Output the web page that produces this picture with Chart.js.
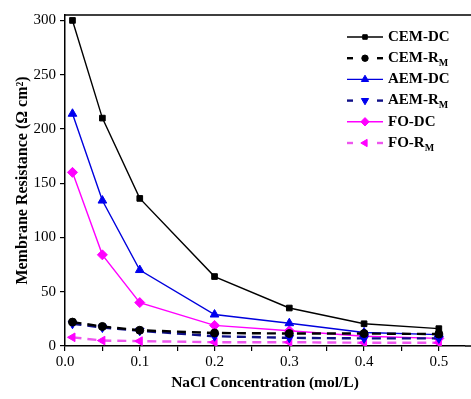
<!DOCTYPE html>
<html>
<head>
<meta charset="utf-8">
<script src="https://cdn.jsdelivr.net/npm/chart.js@4/dist/chart.umd.min.js"></script>
<style>
  html, body { margin: 0; padding: 0; background: #fff; }
  #wrap { width: 471px; height: 399px; }
</style>
</head>
<body>
<div id="wrap"><canvas id="myChart" width="471" height="399"></canvas></div>
<script>
// data
let conc = [0.01, 0.05, 0.1, 0.2, 0.3, 0.4, 0.5];
let cemDC = [300, 210, 136, 64, 35, 20.5, 16];
let cemRM = [22, 18, 14.5, 12, 11.5, 11.5, 11];
let aemDC = [214, 134, 70, 29, 21, 12.5, 10.5];
let aemRM = [20.5, 17, 14, 9, 7.5, 7, 7];
let foDC = [160, 84, 40, 19, 14, 9, 7];
let foRM = [8, 5, 4.5, 3.5, 3.5, 3, 3];
let xTicks = [0, 0.05, 0.1, 0.15, 0.2, 0.25, 0.3, 0.35, 0.4, 0.45, 0.5];
let yTicks = [0, 50, 100, 150, 200, 250, 300];

const serif = "'Liberation Serif', 'Times New Roman', serif";

function pts(vals) {
  return vals.map((v, i) => ({ x: conc[i], y: v }));
}

function series(name, sub, vals, color, lineColor, style, rot, dashed, radius) {
  return {
    label: name,
    sub: sub,
    data: pts(vals),
    borderColor: lineColor,
    backgroundColor: color,
    pointBackgroundColor: color,
    pointBorderColor: color,
    pointStyle: style,
    pointRotation: rot,
    pointRadius: radius,
    pointBorderWidth: 1,
    borderWidth: dashed ? 2.4 : 1.4,
    borderDash: dashed ? [9, 6] : [],
    tension: 0,
    fill: false,
  };
}

const datasets = [
  series("CEM-DC", "", cemDC, "#000000", "#000000", "rect", 0, false, 4),
  series("CEM-R", "M", cemRM, "#000000", "#000000", "circle", 0, true, 4),
  series("AEM-DC", "", aemDC, "#0000ee", "#0000dd", "triangle", 0, false, 5),
  series("AEM-R", "M", aemRM, "#0000ee", "#101088", "triangle", 180, true, 5),
  series("FO-DC", "", foDC, "#ff00ff", "#ff00ff", "rectRot", 0, false, 5),
  series("FO-R", "M", foRM, "#ff00ff", "#ee55ee", "triangle", 270, true, 5),
];

// legend drawn by hand so the M subscript works
const customLegend = {
  id: "customLegend",
  afterDraw(chart) {
    const c = chart.ctx;
    const x0 = 347, x1 = 383, tx = 388;
    let y = 37;
    chart.data.datasets.forEach((ds) => {
      c.save();
      c.strokeStyle = ds.borderColor;
      c.lineWidth = ds.borderWidth;
      if (ds.borderDash.length) {
        c.beginPath(); c.moveTo(x0, y); c.lineTo(x0 + 6, y); c.stroke();
        c.beginPath(); c.moveTo(x1 - 6, y); c.lineTo(x1, y); c.stroke();
      } else {
        c.beginPath(); c.moveTo(x0, y); c.lineTo(x1, y); c.stroke();
      }
      c.fillStyle = ds.pointBackgroundColor;
      c.strokeStyle = ds.pointBorderColor;
      c.lineWidth = 1;
      Chart.helpers.drawPoint(c, {
        pointStyle: ds.pointStyle,
        rotation: ds.pointRotation,
        radius: ds.pointRadius - 0.8,
        borderWidth: 1,
      }, (x0 + x1) / 2, y);
      c.fillStyle = "#000";
      c.textBaseline = "middle";
      c.font = "bold 15px " + serif;
      c.fillText(ds.label, tx, y);
      if (ds.sub) {
        const w = c.measureText(ds.label).width;
        c.font = "bold 10px " + serif;
        c.fillText(ds.sub, tx + w, y + 5);
      }
      c.restore();
      y += 21.2;
    });
  },
};

// top frame line, and the x axis line running on to the edge
const frame = {
  id: "frame",
  afterDraw(chart) {
    const a = chart.chartArea;
    const c = chart.ctx;
    c.save();
    c.strokeStyle = "#000";
    c.lineWidth = 1.5;
    c.beginPath();
    c.moveTo(a.left, a.top);
    c.lineTo(chart.width, a.top);
    c.moveTo(a.right, a.bottom);
    c.lineTo(chart.width, a.bottom);
    c.stroke();
    c.restore();
  },
};

const ctx = document.getElementById("myChart");
new Chart(ctx, {
  type: "line",
  data: { datasets: datasets },
  options: {
    responsive: false,
    animation: false,
    layout: { padding: { top: 15, right: 0, left: 0, bottom: 0 } },
    plugins: {
      legend: { display: false },
      tooltip: { enabled: false },
    },
    scales: {
      x: {
        type: "linear",
        min: 0,
        max: 0.535,
        afterBuildTicks: (s) => { s.ticks = xTicks.map((v) => ({ value: v })); },
        afterFit: (s) => { s.height = 53; },
        ticks: {
          color: "#000",
          font: { family: serif, size: 15 },
          padding: 2,
          maxRotation: 0,
          autoSkip: false,
          callback: (v) => (Math.round(v * 100) % 10 === 0 ? v.toFixed(1) : ""),
        },
        grid: { display: true, drawOnChartArea: false, drawTicks: true, tickLength: 5, color: "#000", lineWidth: 1.2 },
        border: { display: true, color: "#000", width: 1.5 },
        title: {
          display: true,
          text: "NaCl Concentration (mol/L)",
          color: "#000",
          font: { family: serif, size: 15.5, weight: "bold" },
          padding: { top: 4, bottom: 7 },
        },
      },
      y: {
        min: 0,
        max: 305,
        afterBuildTicks: (s) => { s.ticks = yTicks.map((v) => ({ value: v })); },
        afterFit: (s) => { s.width = 65; },
        ticks: {
          color: "#000",
          font: { family: serif, size: 15 },
          padding: 4,
        },
        grid: { display: true, drawOnChartArea: false, drawTicks: true, tickLength: 5, color: "#000", lineWidth: 1.2 },
        border: { display: true, color: "#000", width: 1.5 },
        title: {
          display: true,
          text: "Membrane Resistance (Ω cm²)",
          color: "#000",
          font: { family: serif, size: 16, weight: "bold" },
          padding: { top: 13, bottom: 0 },
        },
      },
    },
  },
  plugins: [customLegend, frame],
});
</script>
</body>
</html>
